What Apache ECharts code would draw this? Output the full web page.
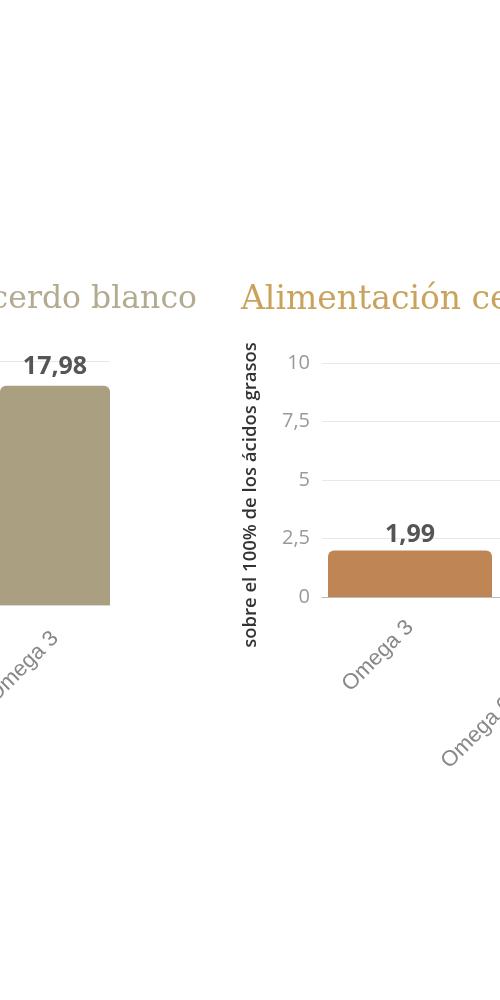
<!DOCTYPE html>
<html>
<head>
<meta charset="utf-8">
<script src="https://cdn.jsdelivr.net/npm/echarts@6/dist/echarts.min.js"></script>
<style>
  html, body { margin: 0; padding: 0; width: 500px; height: 1000px; overflow: hidden; background: #fff; }
  /* the reference is a crop of a wider graphic, so the chart is drawn wider and shifted left */
  #chart { position: absolute; left: -400px; top: 0; width: 1300px; height: 1000px; }
</style>
</head>
<body>
<div id="chart"></div>
<script>
// left chart (cerdo blanco)
const blancoTitle = 'Alimentación cerdo blanco';
const blancoCategories = ['Omega 3'];
const blancoValues = [17.98];

// right chart (cerdo ibérico)
const ibericoTitle = 'Alimentación cerdo ibérico';
const ibericoCategories = ['Omega 3', 'Omega 6 / Omega 3'];
const ibericoValues = [1.99, 8.5];
const ibericoTicks = [0, 2.5, 5, 7.5, 10];
const yName = 'sobre el 100% de los ácidos grasos';

const comma = v => String(v).replace('.', ',');

const myChart = echarts.init(document.getElementById('chart'));
myChart.setOption({
  animation: false,
  title: [{
    text: blancoTitle,
    right: 703,
    top: 284,
    padding: 0,
    textStyle: { fontFamily: 'DejaVu Serif', fontWeight: 'normal', fontSize: 31.5, color: '#b3ab90' }
  }, {
    text: ibericoTitle,
    left: 641,
    top: 284,
    padding: 0,
    textStyle: { fontFamily: 'DejaVu Serif', fontWeight: 'normal', fontSize: 33, color: '#c9a35c' }
  }],
  grid: [
    { left: 400, width: 110, top: 361, height: 244 },
    { left: 722, width: 352, top: 363, height: 234 }
  ],
  xAxis: [{
    gridIndex: 0,
    type: 'category',
    data: blancoCategories,
    axisTick: { show: false },
    axisLine: { lineStyle: { color: '#d8d8d8' } },
    axisLabel: { rotate: 45, color: '#888', fontSize: 22, fontFamily: 'Liberation Sans', margin: 30 }
  }, {
    gridIndex: 1,
    type: 'category',
    data: ibericoCategories,
    axisTick: { show: false },
    axisLine: { lineStyle: { color: '#bbbbbb' } },
    axisLabel: { rotate: 45, color: '#888', fontSize: 22, fontFamily: 'Liberation Sans', margin: 27, interval: 0 }
  }],
  yAxis: [{
    gridIndex: 0,
    type: 'value',
    min: 0,
    max: 20,
    interval: 5,
    axisLabel: { show: false },
    splitLine: { lineStyle: { color: '#e8e8e8' } }
  }, {
    gridIndex: 1,
    type: 'value',
    min: ibericoTicks[0],
    max: ibericoTicks[ibericoTicks.length - 1],
    interval: 2.5,
    name: yName,
    nameLocation: 'middle',
    nameGap: 62,
    nameTextStyle: { color: '#333', fontSize: 18.5, fontWeight: 600, fontFamily: 'Open Sans', padding: [0, 30, 0, 0] },
    axisLabel: { color: '#999', fontSize: 20, fontFamily: 'Open Sans', margin: 12, formatter: comma },
    splitLine: { lineStyle: { color: '#e8e8e8' } }
  }],
  series: [{
    type: 'bar',
    xAxisIndex: 0,
    yAxisIndex: 0,
    data: blancoValues,
    barWidth: 110,
    itemStyle: { color: '#aa9f80', borderRadius: [6, 6, 0, 0] },
    label: {
      show: true, position: 'top', distance: 6, color: '#555', fontSize: 25,
      fontWeight: 'bold', fontFamily: 'Open Sans', formatter: p => comma(p.value)
    }
  }, {
    type: 'bar',
    xAxisIndex: 1,
    yAxisIndex: 1,
    data: ibericoValues,
    barWidth: 164,
    itemStyle: { color: '#bf8555', borderRadius: [6, 6, 0, 0] },
    label: {
      show: true, position: 'top', distance: 3, color: '#555', fontSize: 25,
      fontWeight: 'bold', fontFamily: 'Open Sans', formatter: p => comma(p.value)
    }
  }]
});
</script>
</body>
</html>
